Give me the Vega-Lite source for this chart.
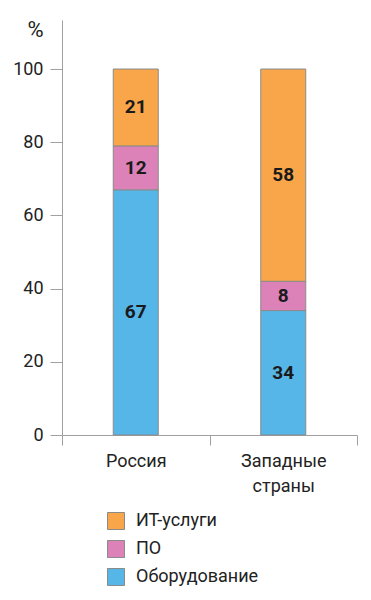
{
  "$schema": "https://vega.github.io/schema/vega-lite/v6.json",
  "autosize": "none",
  "width": 295,
  "height": 415,
  "padding": {"left": 62, "top": 20, "right": 14, "bottom": 165},
  "background": "white",
  "config": {
    "font": "Roboto",
    "view": {"stroke": null}
  },
  "data": {
    "values": [
      {"region": "Россия", "category": "Оборудование", "value": 67, "rank": 1},
      {"region": "Россия", "category": "ПО", "value": 12, "rank": 2},
      {"region": "Россия", "category": "ИТ-услуги", "value": 21, "rank": 3},
      {"region": "Западные страны", "category": "Оборудование", "value": 34, "rank": 1},
      {"region": "Западные страны", "category": "ПО", "value": 8, "rank": 2},
      {"region": "Западные страны", "category": "ИТ-услуги", "value": 58, "rank": 3}
    ]
  },
  "transform": [
    {"stack": "value", "groupby": ["region"], "sort": [{"field": "rank", "order": "ascending"}], "as": ["y0", "y1"]},
    {"calculate": "(datum.y0 + datum.y1) / 2", "as": "ymid"}
  ],
  "encoding": {
    "x": {
      "field": "region",
      "type": "nominal",
      "sort": ["Россия", "Западные страны"],
      "title": null,
      "scale": {"paddingInner": 0, "paddingOuter": 0},
      "axis": {
        "labelAngle": 0,
        "tickBand": "extent",
        "tickSize": 10,
        "tickColor": "#a0a0a0",
        "domainColor": "#a0a0a0",
        "labelFontSize": 18,
        "labelColor": "#222222",
        "labelPadding": 7,
        "labelLineHeight": 25,
        "labelExpr": "split(datum.label, ' ')"
      }
    }
  },
  "layer": [
    {
      "mark": {"type": "bar", "size": 45, "stroke": "#8a8a8a", "strokeWidth": 1},
      "encoding": {
        "y": {
          "field": "y0",
          "type": "quantitative",
          "scale": {"domain": [0, 113.4], "nice": false},
          "axis": {
            "values": [0, 20, 40, 60, 80, 100],
            "grid": false,
            "tickSize": 12,
            "tickColor": "#a0a0a0",
            "domainColor": "#a0a0a0",
            "labelFontSize": 18,
            "labelColor": "#222222",
            "labelPadding": 7,
            "title": "%",
            "titleAngle": 0,
            "titleFontSize": 22,
            "titleFontWeight": "normal",
            "titleColor": "#222222",
            "titleAlign": "center",
            "titleBaseline": "middle",
            "titleX": -27,
            "titleY": 9
          }
        },
        "y2": {"field": "y1"},
        "color": {
          "field": "category",
          "type": "nominal",
          "scale": {
            "domain": ["ИТ-услуги", "ПО", "Оборудование"],
            "range": ["#f9a64a", "#dc82b8", "#56b6e8"]
          },
          "legend": {
            "title": null,
            "orient": "none",
            "legendX": 45,
            "legendY": 492,
            "symbolType": "square",
            "symbolSize": 289,
            "symbolStrokeColor": "#8a8a8a",
            "symbolStrokeWidth": 1,
            "symbolOpacity": 1,
            "labelFontSize": 18,
            "labelColor": "#222222",
            "labelOffset": 11,
            "rowPadding": 6
          }
        }
      }
    },
    {
      "mark": {"type": "text", "fontSize": 19, "fontWeight": "bold", "color": "#1a1a1a", "baseline": "middle"},
      "encoding": {
        "y": {"field": "ymid", "type": "quantitative"},
        "text": {"field": "value", "type": "quantitative"}
      }
    }
  ]
}
